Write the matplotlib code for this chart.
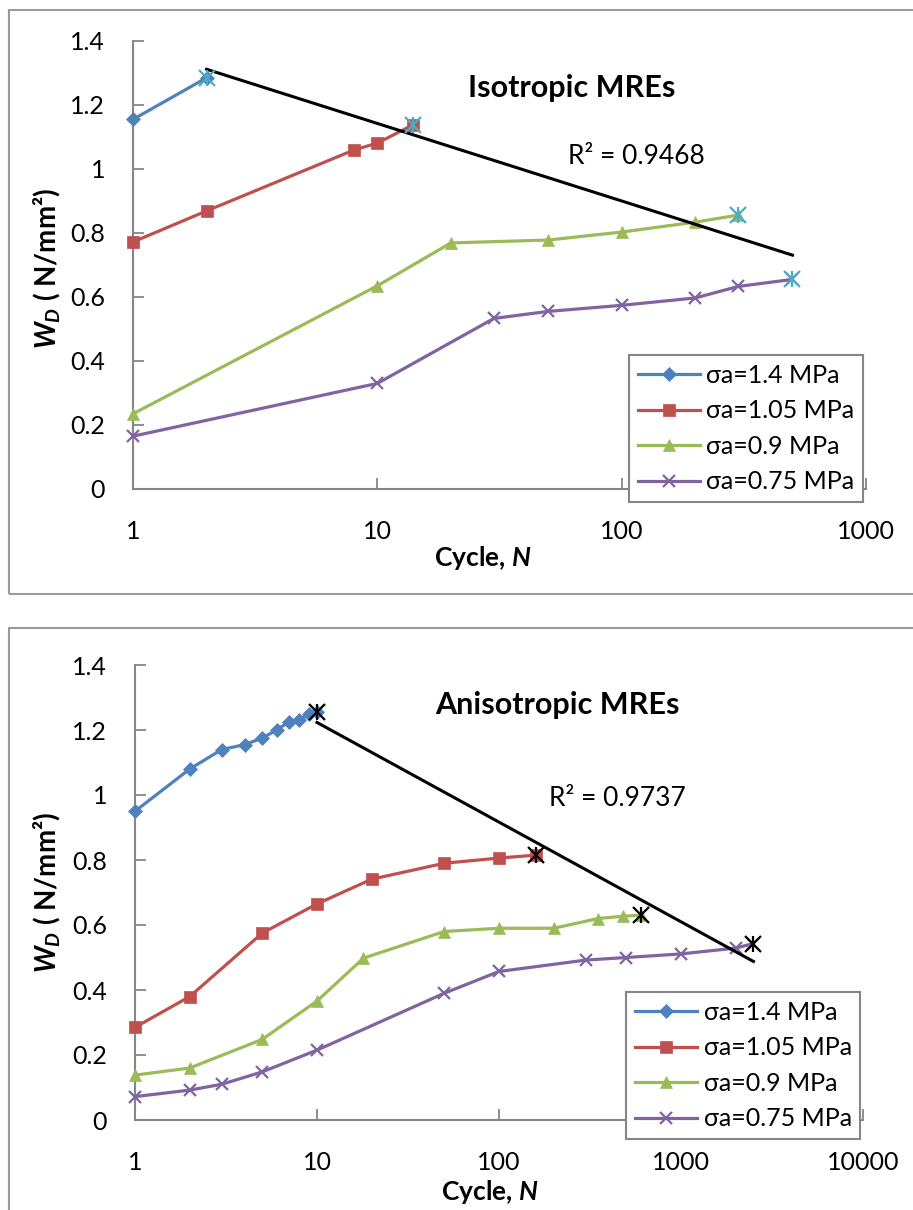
import numpy as np
import matplotlib
matplotlib.use("Agg")
import matplotlib.pyplot as plt
from matplotlib.patches import Rectangle
from matplotlib.ticker import FixedLocator, FixedFormatter, NullLocator

plt.rcParams['font.family'] = ['Lato', 'DejaVu Sans']
plt.rcParams['mathtext.fontset'] = 'custom'
plt.rcParams['mathtext.it'] = 'Lato:italic:bold'
plt.rcParams['mathtext.rm'] = 'Lato:bold'

# isotropic MREs: cycles and dissipated energy per stress amplitude
iso_n_14 = [1, 2]
iso_w_14 = [1.155, 1.285]
iso_n_105 = [1, 2, 8, 10, 14]
iso_w_105 = [0.772, 0.869, 1.059, 1.081, 1.138]
iso_n_09 = [1, 10, 20, 50, 100, 200, 300]
iso_w_09 = [0.235, 0.635, 0.769, 0.778, 0.803, 0.834, 0.856]
iso_n_075 = [1, 10, 30, 50, 100, 200, 300, 500]
iso_w_075 = [0.165, 0.33, 0.533, 0.555, 0.574, 0.597, 0.633, 0.655]

# anisotropic MREs
an_n_14 = [1, 2, 3, 4, 5, 6, 7, 8, 9, 10]
an_w_14 = [0.95, 1.08, 1.14, 1.155, 1.175, 1.2, 1.225, 1.23, 1.25, 1.255]
an_n_105 = [1, 2, 5, 10, 20, 50, 100, 160]
an_w_105 = [0.285, 0.38, 0.575, 0.665, 0.741, 0.79, 0.806, 0.815]
an_n_09 = [1, 2, 5, 10, 18, 50, 100, 200, 350, 480, 600]
an_w_09 = [0.138, 0.16, 0.248, 0.366, 0.498, 0.58, 0.59, 0.59, 0.62, 0.627, 0.63]
an_n_075 = [1, 2, 3, 5, 10, 50, 100, 300, 500, 1000, 2000, 2500]
an_w_075 = [0.072, 0.092, 0.11, 0.148, 0.215, 0.39, 0.457, 0.492, 0.5, 0.511, 0.529, 0.543]

labels = ['σa=1.4 MPa', 'σa=1.05 MPa', 'σa=0.9 MPa', 'σa=0.75 MPa']
colors = ['#4F81BD', '#C0504D', '#9BBB59', '#8064A2']
markers = ['D', 's', '^', 'x']
msizes = [7, 9, 9, 8]

y_ticks = [0, 0.2, 0.4, 0.6, 0.8, 1.0, 1.2, 1.4]
y_tick_labels = ['0', '0.2', '0.4', '0.6', '0.8', '1', '1.2', '1.4']

W, H = 913, 1210
GRAY = '#868686'


def px_axes(fig, x0, x1, y_top, y_bot):
    return fig.add_axes([x0 / W, 1 - y_bot / H, (x1 - x0) / W, (y_bot - y_top) / H])


def frame(fig, x0, y_top, x1, y_bot):
    fig.patches.append(Rectangle((x0 / W, 1 - y_bot / H), (x1 - x0) / W, (y_bot - y_top) / H,
                                 transform=fig.transFigure, fill=False,
                                 edgecolor='#9a9a9a', linewidth=1.5))


def draw_panel(ax, series, xmax, x_ticks, star_color, r2_text, r2_xy, title, title_xy,
               legend_anchor):
    handles = []
    for (n, w), c, m, ms, lab in zip(series, colors, markers, msizes, labels):
        h, = ax.plot(n, w, color=c, lw=2.3, marker=m, ms=ms, mew=1.6 if m == 'x' else 0.5,
                     mec=c, mfc=c, label=lab, clip_on=False, zorder=3)
        handles.append(h)

    # end point of every series gets an asterisk, and a log trend line through them
    end_n = np.array([s[0][-1] for s in series], dtype=float)
    end_w = np.array([s[1][-1] for s in series])
    for mk in ['x', '|']:
        ax.plot(end_n, end_w, ls='none', marker=mk, ms=11, mew=1.6, color=star_color,
                zorder=5, clip_on=False)
    slope, icpt = np.polyfit(np.log(end_n), end_w, 1)
    tn = np.array([end_n.min(), end_n.max()])
    ax.plot(tn, slope * np.log(tn) + icpt, color='black', lw=2.2, zorder=4, clip_on=False)

    ax.set_xscale('log')
    ax.set_xlim(1, xmax)
    ax.set_ylim(0, 1.4)
    ax.xaxis.set_major_locator(FixedLocator(x_ticks))
    ax.xaxis.set_major_formatter(FixedFormatter([str(t) for t in x_ticks]))
    ax.xaxis.set_minor_locator(NullLocator())
    ax.yaxis.set_major_locator(FixedLocator(y_ticks))
    ax.yaxis.set_major_formatter(FixedFormatter(y_tick_labels))
    for side in ['top', 'right']:
        ax.spines[side].set_visible(False)
    for side in ['left', 'bottom']:
        ax.spines[side].set_color(GRAY)
        ax.spines[side].set_linewidth(1.5)
    ax.tick_params(axis='both', direction='in', length=8, width=1.3, color=GRAY,
                   labelsize=18, labelcolor='black')
    ax.tick_params(axis='y', pad=20)
    ax.tick_params(axis='x', pad=22)
    ax.patch.set_alpha(0)

    fig = ax.figure
    fig.text(title_xy[0] / W, 1 - title_xy[1] / H, title, fontsize=22, fontweight='bold',
             ha='center', va='center')
    fig.text(r2_xy[0] / W, 1 - r2_xy[1] / H, r2_text, fontsize=19, ha='center', va='center')

    leg = ax.legend(handles=handles, loc='upper left', numpoints=1,
                    bbox_to_anchor=(legend_anchor[0] / W, 1 - legend_anchor[1] / H),
                    bbox_transform=fig.transFigure, borderaxespad=0, fontsize=18,
                    handlelength=2.5, handletextpad=0.25, labelspacing=0.5,
                    borderpad=0.35, fancybox=False, framealpha=1, edgecolor=GRAY)
    leg.get_frame().set_linewidth(1.5)
    leg.set_zorder(6)


fig = plt.figure(figsize=(W / 100, H / 100), dpi=100)
frame(fig, 9, 10, 930, 594)
frame(fig, 9, 628, 930, 1230)

ax1 = px_axes(fig, 133, 866, 41, 489)
draw_panel(ax1, [(iso_n_14, iso_w_14), (iso_n_105, iso_w_105), (iso_n_09, iso_w_09),
                 (iso_n_075, iso_w_075)],
           1000, [1, 10, 100, 1000], '#4BACC6', 'R² = 0.9468', (636, 157),
           'Isotropic MREs', (572, 88), (629, 355))

ax2 = px_axes(fig, 135, 863, 665, 1120)
draw_panel(ax2, [(an_n_14, an_w_14), (an_n_105, an_w_105), (an_n_09, an_w_09),
                 (an_n_075, an_w_075)],
           10000, [1, 10, 100, 1000, 10000], 'black', 'R² = 0.9737', (617, 798),
           'Anisotropic MREs', (557, 705), (626, 992))

for yc in [268, 892]:
    fig.text(47 / W, 1 - yc / H, r'$W_D$ ( N/mm²)', rotation=90, fontsize=20,
             fontweight='bold', ha='center', va='center')
fig.text(483 / W, 1 - 558 / H, r'Cycle, $N$', fontsize=19, fontweight='bold',
         ha='center', va='center')
fig.text(490 / W, 1 - 1192 / H, r'Cycle, $N$', fontsize=19, fontweight='bold',
         ha='center', va='center')

fig.savefig('out.png', dpi=100)
